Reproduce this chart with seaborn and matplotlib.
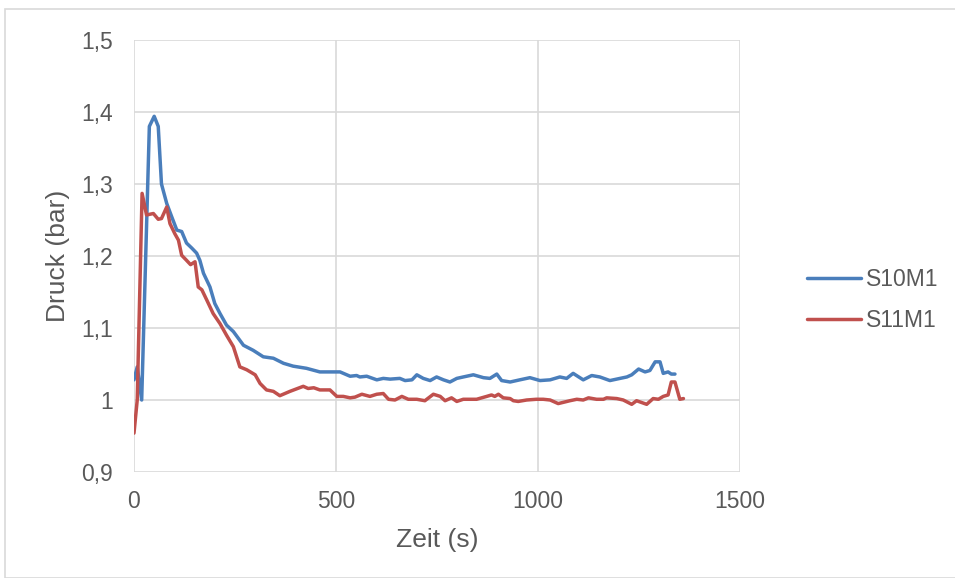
import matplotlib
matplotlib.use("Agg")
import matplotlib.pyplot as plt
from matplotlib.patches import Rectangle
from matplotlib.ticker import FuncFormatter, MultipleLocator
import pandas as pd
import seaborn as sns

# Pressure curves of two measurements (time in s, pressure in bar)
t_s10 = [0, 8, 19, 38, 50, 60, 68, 81, 93, 106, 118, 130, 143, 155, 163, 172,
         188, 200, 213, 229, 246, 271, 295, 320, 345, 370, 394, 427, 460, 485,
         510, 535, 551, 559, 576, 601, 617, 634, 658, 671, 688, 700, 716, 733,
         749, 766, 782, 799, 815, 840, 865, 881, 898, 910, 931, 955, 980, 1005,
         1030, 1054, 1071, 1087, 1112, 1133, 1153, 1178, 1203, 1220, 1232, 1249,
         1265, 1277, 1290, 1302, 1310, 1322, 1330, 1339]
p_s10 = [1.028, 1.046, 1.000, 1.380, 1.394, 1.380, 1.300, 1.273, 1.255, 1.236,
         1.234, 1.218, 1.211, 1.204, 1.194, 1.176, 1.157, 1.134, 1.120, 1.104,
         1.095, 1.076, 1.069, 1.060, 1.058, 1.051, 1.047, 1.044, 1.039, 1.039,
         1.039, 1.033, 1.034, 1.032, 1.033, 1.028, 1.030, 1.029, 1.030, 1.027,
         1.028, 1.035, 1.030, 1.027, 1.032, 1.028, 1.025, 1.030, 1.032, 1.035,
         1.031, 1.030, 1.036, 1.027, 1.025, 1.028, 1.031, 1.027, 1.028, 1.032,
         1.030, 1.037, 1.028, 1.034, 1.032, 1.027, 1.030, 1.032, 1.035, 1.043,
         1.039, 1.041, 1.053, 1.053, 1.037, 1.039, 1.036, 1.036]

t_s11 = [0, 8, 20, 31, 48, 60, 68, 81, 89, 101, 110, 118, 130, 140, 151, 159,
         168, 180, 196, 213, 229, 246, 262, 279, 300, 312, 328, 345, 361, 386,
         419, 431, 445, 460, 485, 502, 518, 535, 547, 564, 584, 601, 617, 630,
         646, 663, 679, 700, 720, 741, 758, 770, 786, 799, 815, 848, 873, 885,
         893, 902, 914, 931, 939, 951, 972, 996, 1013, 1030, 1050, 1079, 1096,
         1112, 1125, 1145, 1162, 1170, 1195, 1211, 1232, 1244, 1269, 1285, 1298,
         1310, 1322, 1330, 1339, 1351, 1360]
p_s11 = [0.954, 1.000, 1.287, 1.257, 1.259, 1.251, 1.252, 1.268, 1.245, 1.231,
         1.222, 1.201, 1.194, 1.188, 1.192, 1.157, 1.153, 1.139, 1.120, 1.106,
         1.090, 1.074, 1.046, 1.042, 1.035, 1.023, 1.014, 1.012, 1.006, 1.012,
         1.019, 1.016, 1.017, 1.014, 1.014, 1.005, 1.005, 1.003, 1.004, 1.008,
         1.005, 1.008, 1.009, 1.001, 1.000, 1.005, 1.001, 1.001, 0.999, 1.008,
         1.005, 0.999, 1.003, 0.998, 1.001, 1.001, 1.005, 1.007, 1.005, 1.008,
         1.003, 1.002, 0.999, 0.998, 1.000, 1.001, 1.001, 1.000, 0.995, 0.999,
         1.001, 1.000, 1.003, 1.001, 1.001, 1.003, 1.002, 1.000, 0.994, 0.999,
         0.994, 1.002, 1.001, 1.005, 1.007, 1.025, 1.025, 1.001, 1.002]

series_names = ["S10M1", "S11M1"]
colors = ["#4a7ebb", "#c0504d"]
x_ticks = [0, 500, 1000, 1500]

df = pd.concat([
    pd.DataFrame({"Zeit": t_s10, "Druck": p_s10, "Serie": series_names[0]}),
    pd.DataFrame({"Zeit": t_s11, "Druck": p_s11, "Serie": series_names[1]}),
], ignore_index=True)

sns.set_style("white")
plt.rcParams["font.family"] = ["Liberation Sans", "DejaVu Sans"]
text_color = "#595959"

W, H = 955, 578
fig = plt.figure(figsize=(W / 100, H / 100), dpi=100)
ax = fig.add_axes([134 / W, 1 - 472 / H, 606 / W, 432 / H])

# light frame around the chart area
fig.patches.append(Rectangle((5 / W, 0), 1, 1 - 9 / H, transform=fig.transFigure,
                             fill=False, edgecolor="#d9d9d9", linewidth=1.2))

sns.lineplot(data=df, x="Zeit", y="Druck", hue="Serie", palette=colors,
             linewidth=2.5, sort=False, estimator=None, ax=ax)

ax.set_xlim(0, 1500)
ax.set_ylim(0.9, 1.5)
ax.set_xticks(x_ticks)
ax.yaxis.set_major_locator(MultipleLocator(0.1))
ax.yaxis.set_major_formatter(FuncFormatter(lambda v, _: f"{round(v, 1):g}".replace(".", ",")))

ax.grid(True, color="#d9d9d9", linewidth=1.2)
ax.set_axisbelow(True)
for s in ax.spines.values():
    s.set_visible(False)
ax.tick_params(axis="both", length=0, labelsize=16.5, labelcolor=text_color)
ax.tick_params(axis="x", pad=13)
ax.tick_params(axis="y", pad=15)

ax.set_xlabel("")
ax.set_ylabel("")
fig.text(437 / W, 1 - 540 / H, "Zeit (s)", fontsize=19, color=text_color,
         ha="center", va="center")
fig.text(58 / W, 1 - 256 / H, "Druck (bar)", fontsize=19, color=text_color,
         ha="center", va="center", rotation=90)

handles, labels = ax.get_legend_handles_labels()
ax.legend(handles, labels, loc="center left", bbox_to_anchor=(786 / W, 1 - 300 / H),
          bbox_transform=fig.transFigure, frameon=False, fontsize=16.5,
          labelcolor=text_color, handlelength=2.36, labelspacing=0.78,
          handletextpad=0.25)

fig.savefig("out.png", dpi=100)
